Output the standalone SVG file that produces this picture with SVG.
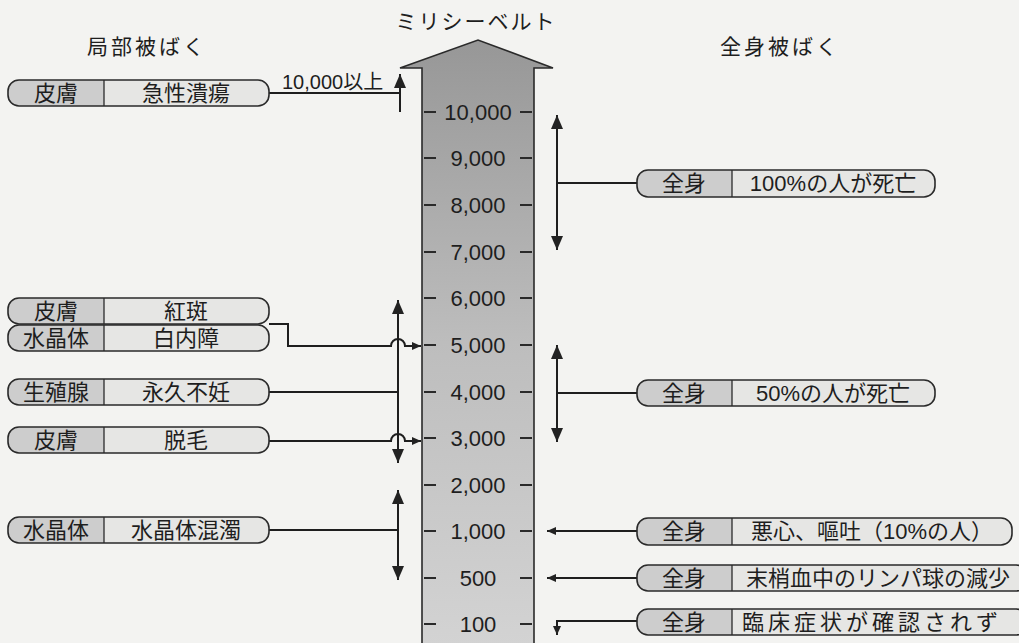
<svg xmlns="http://www.w3.org/2000/svg" width="1019" height="643" viewBox="0 0 1019 643">
<defs>
<linearGradient id="scaleGrad" x1="0" y1="0" x2="0" y2="1">
<stop offset="0" stop-color="#979797"/>
<stop offset="0.5" stop-color="#bdbdbd"/>
<stop offset="1" stop-color="#d3d3d3"/>
</linearGradient>
<marker id="big" viewBox="0 0 14 12" refX="14" refY="6" markerWidth="14" markerHeight="12" markerUnits="userSpaceOnUse" orient="auto-start-reverse">
<path d="M0,0 L14,6 L0,12 Z" fill="#222"/>
</marker>
<marker id="small" viewBox="0 0 9 8" refX="9" refY="4" markerWidth="9" markerHeight="8" markerUnits="userSpaceOnUse" orient="auto-start-reverse">
<path d="M0,0 L9,4 L0,8 Z" fill="#222"/>
</marker>
<style>
text{font-family:"Liberation Sans","Noto Sans CJK JP",sans-serif;fill:#1e1e1e}
.t{font-size:21px;text-anchor:middle}
.b{font-size:22px;text-anchor:middle}
.n{font-size:22px;text-anchor:middle}
.outline{fill:none;stroke:#2a2a2a;stroke-width:1.6}
.cellA{fill:#cdcdcd}
.cellB{fill:#e6e6e4}
.div{stroke:#2a2a2a;stroke-width:1.3}
.ln{fill:none;stroke:#1e1e1e;stroke-width:2}
.tick{stroke:#2a2a2a;stroke-width:1.8}
</style>
</defs>
<rect width="1019" height="643" fill="#f3f3f1"/>

<g id="titles">
<text class="t" x="147" y="54" letter-spacing="3">局部被ばく</text>
<text class="t" x="476" y="29" letter-spacing="2">ミリシーベルト</text>
<text class="t" x="780" y="54" letter-spacing="3">全身被ばく</text>
</g>

<g id="scale">
<path d="M400,68 L478,40 L553,68 L534,68 L534,645 L422,645 L422,68 Z" fill="url(#scaleGrad)" stroke="#2a2a2a" stroke-width="1.6"/>
<g class="tick">
<path d="M424,112 H436 M520,112 H532 M424,158 H436 M520,158 H532 M424,205 H436 M520,205 H532 M424,252 H436 M520,252 H532 M424,298 H436 M520,298 H532 M424,345 H436 M520,345 H532 M424,392 H436 M520,392 H532 M424,438 H436 M520,438 H532 M424,485 H436 M520,485 H532 M424,531 H436 M520,531 H532 M424,578 H436 M520,578 H532 M424,624 H436 M520,624 H532"/>
</g>
<text class="n" x="478" y="120">10,000</text>
<text class="n" x="478" y="166">9,000</text>
<text class="n" x="478" y="213">8,000</text>
<text class="n" x="478" y="260">7,000</text>
<text class="n" x="478" y="306">6,000</text>
<text class="n" x="478" y="353">5,000</text>
<text class="n" x="478" y="400">4,000</text>
<text class="n" x="478" y="446">3,000</text>
<text class="n" x="478" y="493">2,000</text>
<text class="n" x="478" y="539">1,000</text>
<text class="n" x="478" y="586">500</text>
<text class="n" x="478" y="632">100</text>
</g>

<g id="connectors">
<path class="ln" d="M269,93 H400"/>
<path class="ln" d="M400,112 V74" marker-end="url(#big)"/>
<text x="282" y="89" style="font-size:20px">10,000以上</text>
<path class="ln" d="M398,463 V300" marker-start="url(#big)" marker-end="url(#big)"/>
<path class="ln" d="M269,324 H288 V346 H391 A7,7 0 0 1 405,346 H421" marker-end="url(#small)"/>
<path class="ln" d="M269,392 H398"/>
<path class="ln" d="M269,441 H391 A7,7 0 0 1 405,441 H421" marker-end="url(#small)"/>
<path class="ln" d="M398,580 V490" marker-start="url(#big)" marker-end="url(#big)"/>
<path class="ln" d="M269,530 H398"/>
<path class="ln" d="M557,250 V115" marker-start="url(#big)" marker-end="url(#big)"/>
<path class="ln" d="M557,183 H637"/>
<path class="ln" d="M557,442 V345" marker-start="url(#big)" marker-end="url(#big)"/>
<path class="ln" d="M557,393 H637"/>
<path class="ln" d="M637,531 H547" marker-end="url(#small)"/>
<path class="ln" d="M637,578 H547" marker-end="url(#small)"/>
<path class="ln" d="M637,621 H557 V635" marker-end="url(#small)"/>
</g>

<g id="n1">
<rect class="cellB" x="8" y="80" width="261" height="26" rx="11"/>
<path class="cellA" d="M19,80 H104 V106 H19 A11,11 0 0 1 8,95 V91 A11,11 0 0 1 19,80 Z"/>
<rect class="outline" x="8" y="80" width="261" height="26" rx="11"/>
<line class="div" x1="104" y1="80" x2="104" y2="106"/>
<text class="b" x="56" y="101">皮膚</text>
<text class="b" x="186" y="101">急性潰瘍</text>
</g>
<g id="n2">
<rect class="cellB" x="8" y="298" width="261" height="26" rx="11"/>
<path class="cellA" d="M19,298 H104 V324 H19 A11,11 0 0 1 8,313 V309 A11,11 0 0 1 19,298 Z"/>
<rect class="outline" x="8" y="298" width="261" height="26" rx="11"/>
<line class="div" x1="104" y1="298" x2="104" y2="324"/>
<text class="b" x="56" y="319">皮膚</text>
<text class="b" x="186" y="319">紅斑</text>
</g>
<g id="n3">
<rect class="cellB" x="8" y="325" width="261" height="26" rx="11"/>
<path class="cellA" d="M19,325 H104 V351 H19 A11,11 0 0 1 8,340 V336 A11,11 0 0 1 19,325 Z"/>
<rect class="outline" x="8" y="325" width="261" height="26" rx="11"/>
<line class="div" x1="104" y1="325" x2="104" y2="351"/>
<text class="b" x="56" y="346">水晶体</text>
<text class="b" x="186" y="346">白内障</text>
</g>
<g id="n4">
<rect class="cellB" x="8" y="379" width="261" height="26" rx="11"/>
<path class="cellA" d="M19,379 H104 V405 H19 A11,11 0 0 1 8,394 V390 A11,11 0 0 1 19,379 Z"/>
<rect class="outline" x="8" y="379" width="261" height="26" rx="11"/>
<line class="div" x1="104" y1="379" x2="104" y2="405"/>
<text class="b" x="56" y="400">生殖腺</text>
<text class="b" x="186" y="400">永久不妊</text>
</g>
<g id="n5">
<rect class="cellB" x="8" y="427" width="261" height="26" rx="11"/>
<path class="cellA" d="M19,427 H104 V453 H19 A11,11 0 0 1 8,442 V438 A11,11 0 0 1 19,427 Z"/>
<rect class="outline" x="8" y="427" width="261" height="26" rx="11"/>
<line class="div" x1="104" y1="427" x2="104" y2="453"/>
<text class="b" x="56" y="448">皮膚</text>
<text class="b" x="186" y="448">脱毛</text>
</g>
<g id="n6">
<rect class="cellB" x="8" y="517" width="261" height="26" rx="11"/>
<path class="cellA" d="M19,517 H104 V543 H19 A11,11 0 0 1 8,532 V528 A11,11 0 0 1 19,517 Z"/>
<rect class="outline" x="8" y="517" width="261" height="26" rx="11"/>
<line class="div" x1="104" y1="517" x2="104" y2="543"/>
<text class="b" x="56" y="538">水晶体</text>
<text class="b" x="186" y="538">水晶体混濁</text>
</g>

<g id="r1">
<rect class="cellB" x="637" y="170" width="298" height="27" rx="11"/>
<path class="cellA" d="M648,170 H732 V197 H648 A11,11 0 0 1 637,186 V181 A11,11 0 0 1 648,170 Z"/>
<rect class="outline" x="637" y="170" width="298" height="27" rx="11"/>
<line class="div" x1="732" y1="170" x2="732" y2="197"/>
<text class="b" x="684" y="191">全身</text>
<text class="b" x="833" y="191">100%の人が死亡</text>
</g>
<g id="r2">
<rect class="cellB" x="637" y="380" width="298" height="26" rx="11"/>
<path class="cellA" d="M648,380 H732 V406 H648 A11,11 0 0 1 637,395 V391 A11,11 0 0 1 648,380 Z"/>
<rect class="outline" x="637" y="380" width="298" height="26" rx="11"/>
<line class="div" x1="732" y1="380" x2="732" y2="406"/>
<text class="b" x="684" y="401">全身</text>
<text class="b" x="833" y="401">50%の人が死亡</text>
</g>
<g id="r3">
<rect class="cellB" x="637" y="518" width="375" height="27" rx="11"/>
<path class="cellA" d="M648,518 H732 V545 H648 A11,11 0 0 1 637,534 V529 A11,11 0 0 1 648,518 Z"/>
<rect class="outline" x="637" y="518" width="375" height="27" rx="11"/>
<line class="div" x1="732" y1="518" x2="732" y2="545"/>
<text class="b" x="684" y="539">全身</text>
<text class="b" x="872" y="539">悪心、嘔吐（10%の人）</text>
</g>
<g id="r4">
<rect class="cellB" x="637" y="565" width="390" height="26" rx="11"/>
<path class="cellA" d="M648,565 H732 V591 H648 A11,11 0 0 1 637,580 V576 A11,11 0 0 1 648,565 Z"/>
<rect class="outline" x="637" y="565" width="390" height="26" rx="11"/>
<line class="div" x1="732" y1="565" x2="732" y2="591"/>
<text class="b" x="684" y="586">全身</text>
<text class="b" x="878" y="586">末梢血中のリンパ球の減少</text>
</g>
<g id="r5">
<rect class="cellB" x="637" y="609" width="390" height="26" rx="11"/>
<path class="cellA" d="M648,609 H732 V635 H648 A11,11 0 0 1 637,624 V620 A11,11 0 0 1 648,609 Z"/>
<rect class="outline" x="637" y="609" width="390" height="26" rx="11"/>
<line class="div" x1="732" y1="609" x2="732" y2="635"/>
<text class="b" x="684" y="630">全身</text>
<text class="b" x="872" y="630" letter-spacing="4">臨床症状が確認されず</text>
</g>
</svg>
